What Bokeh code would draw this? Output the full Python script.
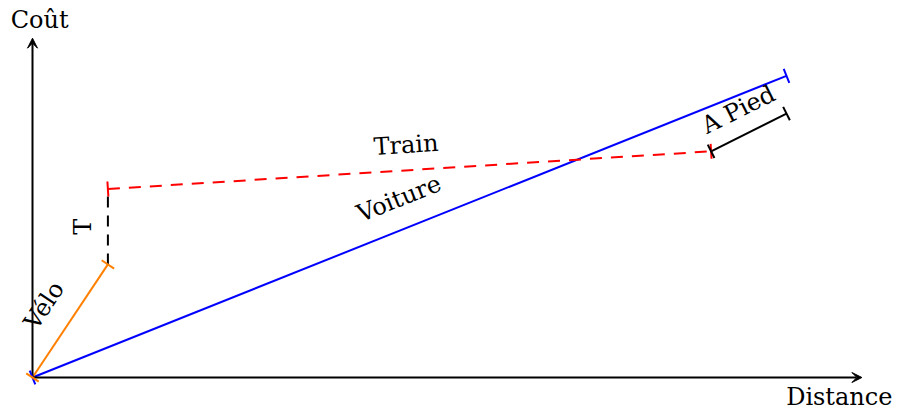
import math
from bokeh.plotting import figure
from bokeh.models import Arrow, TeeHead, VeeHead, ColumnDataSource
from bokeh.core.properties import value
from bokeh.embed import file_html
from bokeh.resources import INLINE

# ---- data (diagram units) ----
axis_x_max = 22
axis_y_max = 9
velo_x = [0, 2]
velo_y = [0, 3]
t_x = [2, 2]
t_y = [3, 5]
train_x = [2, 18]
train_y = [5, 6]
pied_x = [18, 20]
pied_y = [6, 7]
voiture_x = [0, 20]
voiture_y = [0, 8]
labels = ["Coût", "Distance", "T", "Vélo", "Train", "Voiture", "A Pied"]

# ---- layout ----
W, H = 898, 412
SCALE = 37.7          # px per unit
OX, OY = 32, 377      # origin in canvas px (from top-left)
x0 = -OX / SCALE
x1 = (W - OX) / SCALE
y0 = -(H - OY) / SCALE
y1 = OY / SCALE

p = figure(width=W, height=H, x_range=(x0, x1), y_range=(y0, y1),
           output_backend="svg", toolbar_location=None, min_border=0)
p.axis.visible = False
p.grid.visible = False
p.outline_line_color = None
p.background_fill_color = "white"

FONT = value("DejaVu Serif")
FS = "24px"
LW = 2

# axes with arrows
for xe, ye in [(axis_x_max, 0), (0, axis_y_max)]:
    p.add_layout(Arrow(x_start=0, y_start=0, x_end=xe, y_end=ye,
                       line_color="black", line_width=LW,
                       end=VeeHead(size=10, fill_color="black", line_color="black", line_width=1)))

def seg(xs, ys, color, dash="solid", tees=True):
    p.line(xs, ys, line_color=color, line_width=LW, line_dash=dash)
    if tees:
        p.add_layout(Arrow(x_start=xs[0], y_start=ys[0], x_end=xs[1], y_end=ys[1],
                           line_alpha=0,
                           start=TeeHead(size=15, line_color=color, line_width=LW),
                           end=TeeHead(size=15, line_color=color, line_width=LW)))

seg(voiture_x, voiture_y, "#0000ff")
seg(velo_x, velo_y, "#ff8000")
seg(t_x, t_y, "black", dash="11 8", tees=False)
seg(train_x, train_y, "#ff0000", dash="12 9")
seg(pied_x, pied_y, "black")

def ang(xs, ys):
    return math.atan2(ys[1] - ys[0], xs[1] - xs[0])

def mid(xs, ys):
    return (xs[0] + xs[1]) / 2, (ys[0] + ys[1]) / 2

def offset(xs, ys, d):
    a = ang(xs, ys)
    mx, my = mid(xs, ys)
    return mx - d * math.sin(a), my + d * math.cos(a)

vx, vy = offset(velo_x, velo_y, 0.65)
tx, ty = offset(t_x, t_y, 0.67)
trx, try_ = offset(train_x, train_y, 0.67)
vox, voy = offset(voiture_x, voiture_y, 0.75)
px_, py_ = offset(pied_x, pied_y, 0.62)

src = ColumnDataSource(dict(
    x=[0.19, axis_x_max - 0.6, tx, vx - 0.15, trx - 0.05, vox, px_],
    y=[axis_y_max + 0.47, -0.53, ty, vy + 0.05, try_, voy + 0.05, py_ + 0.05],
    text=labels,
    angle=[0, 0, ang(t_x, t_y), ang(velo_x, velo_y), ang(train_x, train_y),
           ang(voiture_x, voiture_y), ang(pied_x, pied_y)],
))
p.text(x="x", y="y", text="text", angle="angle", source=src,
       text_font=FONT, text_font_size=FS, text_align="center",
       text_baseline="middle", text_color="black")

open("out.html", "w").write(file_html(p, INLINE))
